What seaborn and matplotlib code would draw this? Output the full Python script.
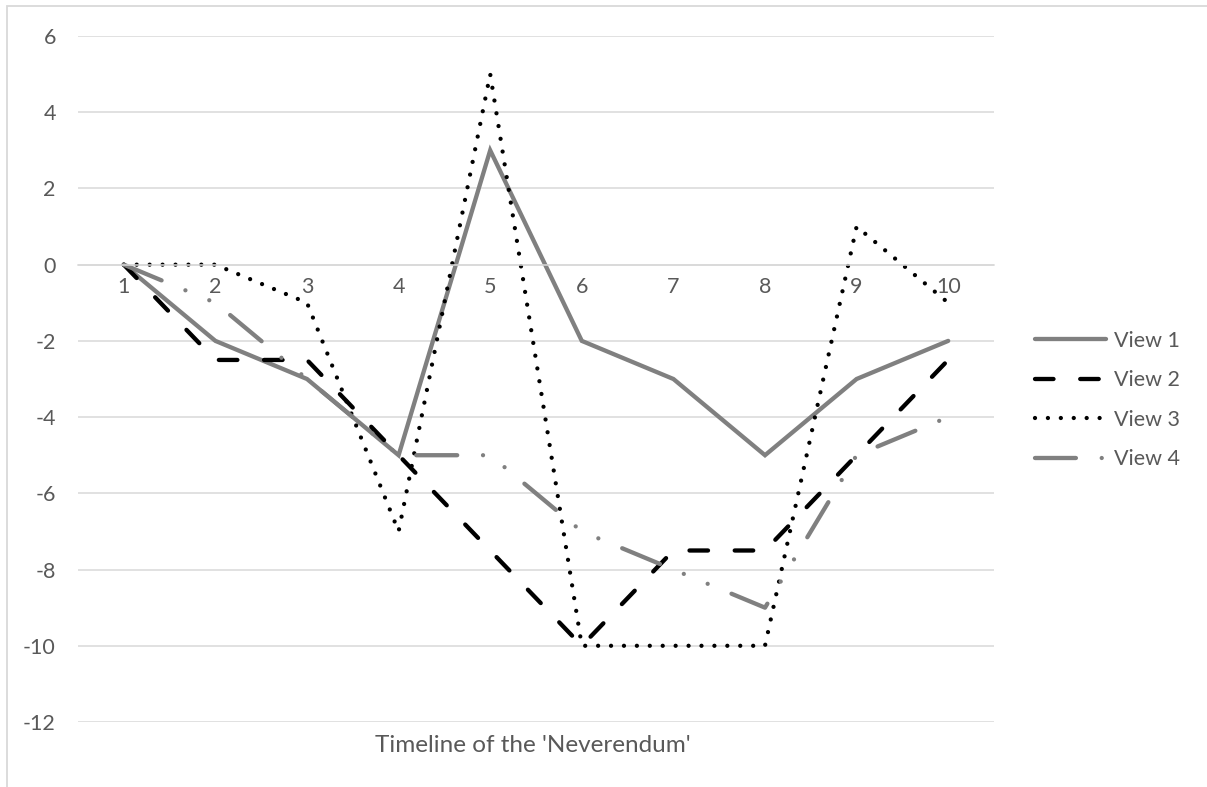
import matplotlib
matplotlib.use("Agg")
import matplotlib.pyplot as plt
from matplotlib.patches import Rectangle
from matplotlib.lines import Line2D
import seaborn as sns
import pandas as pd

# Timeline positions and the four views
categories = [1, 2, 3, 4, 5, 6, 7, 8, 9, 10]
view1 = [0, -2, -3, -5, 3, -2, -3, -5, -3, -2]
view2 = [0, -2.5, -2.5, -5, -7.5, -10, -7.5, -7.5, -5, -2.5]
view3 = [0, 0, -1, -7, 5, -10, -10, -10, 1, -1]
view4 = [0, -1, -3, -5, -5, -7, -8, -9, -5, -4]
series_names = ["View 1", "View 2", "View 3", "View 4"]
y_ticks = [-12, -10, -8, -6, -4, -2, 0, 2, 4, 6]
x_title = "Timeline of the 'Neverendum'"

sns.set_theme(style="white")
plt.rcParams["font.family"] = ["Lato", "DejaVu Sans"]

text_color = "#595959"
grid_color = "#d9d9d9"
LW = 3.1
FS = 15.5
colors = {"View 1": "#808080", "View 2": "#000000",
          "View 3": "#000000", "View 4": "#808080"}
dash_map = {"View 1": "",
            "View 2": (4.3, 6.2),
            "View 3": (0.001, 3.0),
            "View 4": (9.5, 6.0, 0.001, 6.0, 0.001, 6.0)}

df = pd.DataFrame({
    "x": categories * 4,
    "value": view1 + view2 + view3 + view4,
    "series": [s for s in series_names for _ in categories],
})

fig = plt.figure(figsize=(12.07, 7.87), dpi=100)
W, H = 1207, 787
ax = fig.add_axes([78 / W, 1 - 722 / H, (994 - 78) / W, (722 - 36) / H])

sns.lineplot(data=df, x="x", y="value", hue="series", style="series",
             palette=colors, dashes=dash_map, linewidth=LW,
             legend=False, ax=ax, sort=False)

for ln in ax.lines:
    ln.set_dash_capstyle("round")
    ln.set_solid_capstyle("round")
    ln.set_solid_joinstyle("miter")

ax.set_xlim(0.5, 10.5)
ax.set_ylim(-12, 6)
ax.set_yticks(y_ticks)
ax.set_yticklabels([str(t) for t in y_ticks])
ax.set_xticks(categories)
ax.set_xticklabels([str(c) for c in categories])
ax.set_xticks([c + 0.5 for c in [0] + categories], minor=True)

ax.grid(axis="y", color=grid_color, linewidth=1.1)
ax.grid(axis="x", visible=False)
ax.set_axisbelow(True)

for side in ["left", "right", "top"]:
    ax.spines[side].set_visible(False)
ax.spines["bottom"].set_position(("data", 0))
ax.spines["bottom"].set_color(grid_color)
ax.spines["bottom"].set_linewidth(1.1)

ax.tick_params(axis="y", length=0, pad=16, labelsize=FS, labelcolor=text_color)
ax.tick_params(axis="x", which="major", length=0, pad=9,
               labelsize=FS, labelcolor=text_color)
ax.tick_params(axis="x", which="minor", length=5, width=1.1,
               color=grid_color, direction="out")
ax.set_xlabel("")
ax.set_ylabel("")

fig.text(533 / W, 1 - 746 / H, x_title, ha="center", va="center",
         fontsize=17.5, color=text_color)

handles = []
for name in series_names:
    h = Line2D([], [], color=colors[name], linewidth=LW,
               dash_capstyle="round", solid_capstyle="round")
    if dash_map[name]:
        h.set_dashes(dash_map[name])
    handles.append(h)

fig.legend(handles, series_names, loc="center left",
           bbox_to_anchor=(1016 / W, 1 - 400 / H), frameon=False,
           fontsize=FS, handlelength=3.3, handletextpad=0.35,
           labelspacing=0.9, labelcolor=text_color)

fig.patches.append(Rectangle((7 / W, -0.05), 1.0, 1.05 - 6 / H,
                             transform=fig.transFigure, fill=False,
                             edgecolor=grid_color, linewidth=1.3))

fig.savefig("out.png", dpi=100, facecolor="white")
